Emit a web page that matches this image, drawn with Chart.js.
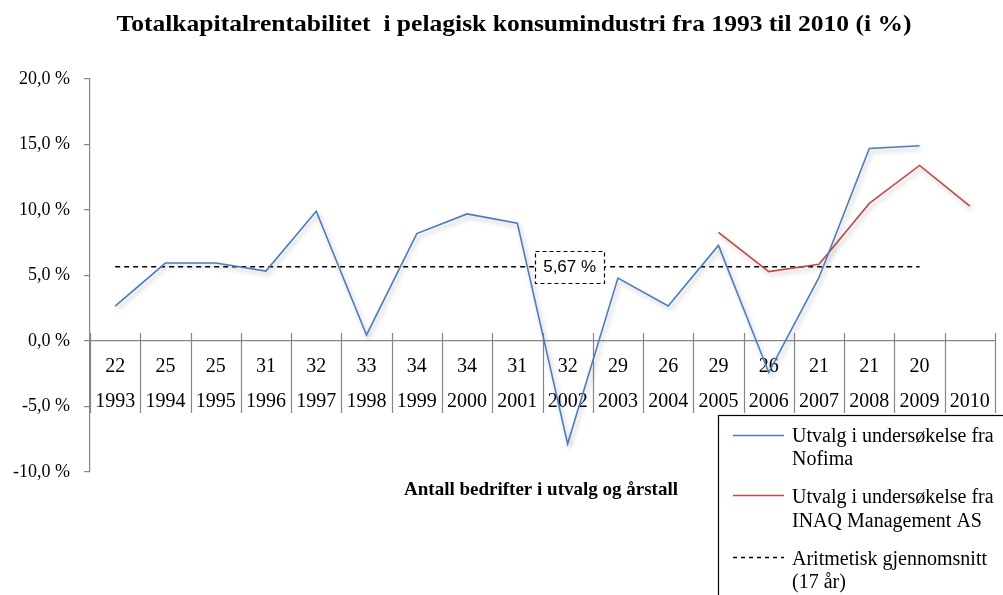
<!DOCTYPE html>
<html>
<head>
<meta charset="utf-8">
<script src="https://cdn.jsdelivr.net/npm/chart.js@4/dist/chart.umd.min.js"></script>
<style>
html,body{margin:0;padding:0;background:#fff;}
#wrap{position:relative;width:1003px;height:595px;}
</style>
</head>
<body>
<div id="wrap"><canvas id="c" width="1003" height="595"></canvas></div>
<script>
// ---- DATA ----
const years = ['1993','1994','1995','1996','1997','1998','1999','2000','2001','2002','2003','2004','2005','2006','2007','2008','2009','2010'];
const firmCounts = ['22','25','25','31','32','33','34','34','31','32','29','26','29','26','21','21','20',''];
const nofima = [2.67, 5.95, 5.95, 5.34, 9.9, 0.46, 8.2, 9.7, 9.0, -7.85, 4.8, 2.67, 7.3, -2.4, 4.85, 14.7, 14.9, null];
const inaq = [null, null, null, null, null, null, null, null, null, null, null, null, 8.3, 5.3, 5.85, 10.5, 13.4, 10.3];
const average = [5.67, 5.67, 5.67, 5.67, 5.67, 5.67, 5.67, 5.67, 5.67, 5.67, 5.67, 5.67, 5.67, 5.67, 5.67, 5.67, 5.67, null];
const averageLabel = '5,67 %';
const averageLabelIndex = 9;
const yTickValues = [-10, -5, 0, 5, 10, 15, 20];
const titleText = 'Totalkapitalrentabilitet  i pelagisk konsumindustri fra 1993 til 2010 (i %)';
const xTitleText = 'Antall bedrifter i utvalg og årstall';
const legendItems = [
  {lines: ['Utvalg i undersøkelse fra', 'Nofima'], color: '#4a7ebb', dash: []},
  {lines: ['Utvalg i undersøkelse fra', 'INAQ Management AS'], color: '#be4b48', dash: []},
  {lines: ['Aritmetisk gjennomsnitt', '(17 år)'], color: '#000000', dash: [4, 4]}
];

const SERIF = '"Liberation Serif", "Times New Roman", serif';
const AXIS_GRAY = '#868686';

const shadowPlugin = {
  id: 'shadow',
  beforeDatasetDraw(chart, args) {
    if (args.index < 2) {
      const c = chart.ctx;
      c.save();
      c.shadowColor = 'rgba(0,0,0,0.28)';
      c.shadowBlur = 5;
      c.shadowOffsetX = 2;
      c.shadowOffsetY = 3;
    }
  },
  afterDatasetDraw(chart, args) {
    if (args.index < 2) chart.ctx.restore();
  }
};

const separatorsPlugin = {
  id: 'separators',
  beforeDatasetsDraw(chart) {
    const xs = chart.scales.x, ys = chart.scales.y;
    const y0 = ys.getPixelForValue(0);
    const n = years.length;
    const step = (xs.right - xs.left) / n;
    const c = chart.ctx;
    c.save();
    c.strokeStyle = AXIS_GRAY;
    c.lineWidth = 1.2;
    for (let i = 0; i <= n; i++) {
      const px = Math.round(xs.left + i * step) + 0.5;
      c.beginPath();
      c.moveTo(px, y0 - 8);
      c.lineTo(px, y0 + 72);
      c.stroke();
    }
    c.restore();
  }
};

const annotationPlugin = {
  id: 'avgLabel',
  afterDatasetsDraw(chart) {
    const xs = chart.scales.x, ys = chart.scales.y;
    const cx = xs.getPixelForValue(averageLabelIndex) + 2;
    const cy = ys.getPixelForValue(average[averageLabelIndex]);
    const c = chart.ctx;
    c.save();
    const w = 69, h = 32;
    const x0 = Math.round(cx - w / 2) + 0.5, y0 = Math.round(cy - h / 2) + 0.5;
    c.fillStyle = '#fff';
    c.fillRect(x0, y0, w, h);
    c.setLineDash([4, 3]);
    c.strokeStyle = '#000';
    c.lineWidth = 1.2;
    c.strokeRect(x0, y0, w, h);
    c.setLineDash([]);
    c.fillStyle = '#000';
    c.font = '17px "Liberation Sans", Arial, sans-serif';
    c.textAlign = 'center';
    c.textBaseline = 'middle';
    c.fillText(averageLabel, cx, cy + 1);
    c.restore();
  }
};

const decorPlugin = {
  id: 'decor',
  afterDraw(chart) {
    const c = chart.ctx;
    c.save();
    // main title
    c.fillStyle = '#000';
    c.font = 'bold 24px ' + SERIF;
    c.textBaseline = 'alphabetic';
    c.textAlign = 'center';
    const tw = c.measureText(titleText).width;
    const target = 795;
    c.save();
    c.translate(514, 31);
    c.scale(target / tw, 1);
    c.fillText(titleText, 0, 0);
    c.restore();
    // x axis title
    c.font = 'bold 19px ' + SERIF;
    c.fillText(xTitleText, 541, 495);
    // legend
    const lx = 718.5, ly = 415.5;
    c.fillStyle = '#fff';
    c.fillRect(lx, ly, 300, 200);
    c.strokeStyle = '#000';
    c.lineWidth = 1.2;
    c.strokeRect(lx, ly, 300, 200);
    const baselines = [[442, 465], [503, 527], [565, 588]];
    const lineYs = [435, 495, 557];
    c.font = '20px ' + SERIF;
    c.textAlign = 'left';
    legendItems.forEach((it, k) => {
      c.strokeStyle = it.color;
      c.lineWidth = it.dash.length ? 1.5 : 1.4;
      c.setLineDash(it.dash);
      c.beginPath();
      c.moveTo(733, lineYs[k] + 0.5);
      c.lineTo(784, lineYs[k] + 0.5);
      c.stroke();
      c.setLineDash([]);
      c.fillStyle = '#000';
      it.lines.forEach((t, j) => c.fillText(t, 792, baselines[k][j]));
    });
    c.restore();
  }
};

new Chart(document.getElementById('c'), {
  type: 'line',
  data: {
    labels: years,
    datasets: [
      {label: 'Nofima', data: nofima, borderColor: '#4a7ebb', borderWidth: 1.6, pointRadius: 0, tension: 0, fill: false},
      {label: 'INAQ', data: inaq, borderColor: '#be4b48', borderWidth: 1.6, pointRadius: 0, tension: 0, fill: false},
      {label: 'Snitt', data: average, borderColor: '#000', borderWidth: 1.5, borderDash: [5, 4], pointRadius: 0, tension: 0, fill: false}
    ]
  },
  options: {
    responsive: false,
    animation: false,
    devicePixelRatio: 1,
    layout: {padding: {left: 0, right: 8, top: 79, bottom: 123}},
    plugins: {legend: {display: false}, title: {display: false}, tooltip: {enabled: false}},
    scales: {
      x: {
        type: 'category',
        position: {y: 0},
        offset: true,
        grid: {display: true, drawOnChartArea: false, drawTicks: true, tickLength: 14, color: 'rgba(0,0,0,0)'},
        border: {display: true, color: AXIS_GRAY, width: 1.2},
        ticks: {
          callback: (v, i) => firmCounts[i],
          font: {family: SERIF, size: 20},
          color: '#000', padding: 0, maxRotation: 0, minRotation: 0, autoSkip: false
        }
      },
      x2: {
        type: 'category',
        labels: years,
        position: {y: 0},
        offset: true,
        grid: {display: true, drawOnChartArea: false, drawTicks: true, tickLength: 49, color: 'rgba(0,0,0,0)'},
        border: {display: false},
        ticks: {
          font: {family: SERIF, size: 20},
          color: '#000', padding: 0, maxRotation: 0, minRotation: 0, autoSkip: false
        }
      },
      y: {
        min: -10, max: 20,
        afterBuildTicks(s) { s.ticks = yTickValues.map(v => ({value: v})); },
        afterFit(s) { s.width = 90; },
        ticks: {
          callback: v => v.toFixed(1).replace('.', ',') + ' %',
          font: {family: SERIF, size: 18},
          color: '#000', padding: 14
        },
        grid: {drawOnChartArea: false, drawTicks: true, tickLength: 6, color: AXIS_GRAY, lineWidth: 1.2},
        border: {color: AXIS_GRAY, width: 1.2}
      }
    }
  },
  plugins: [shadowPlugin, separatorsPlugin, annotationPlugin, decorPlugin]
});
</script>
</body>
</html>
